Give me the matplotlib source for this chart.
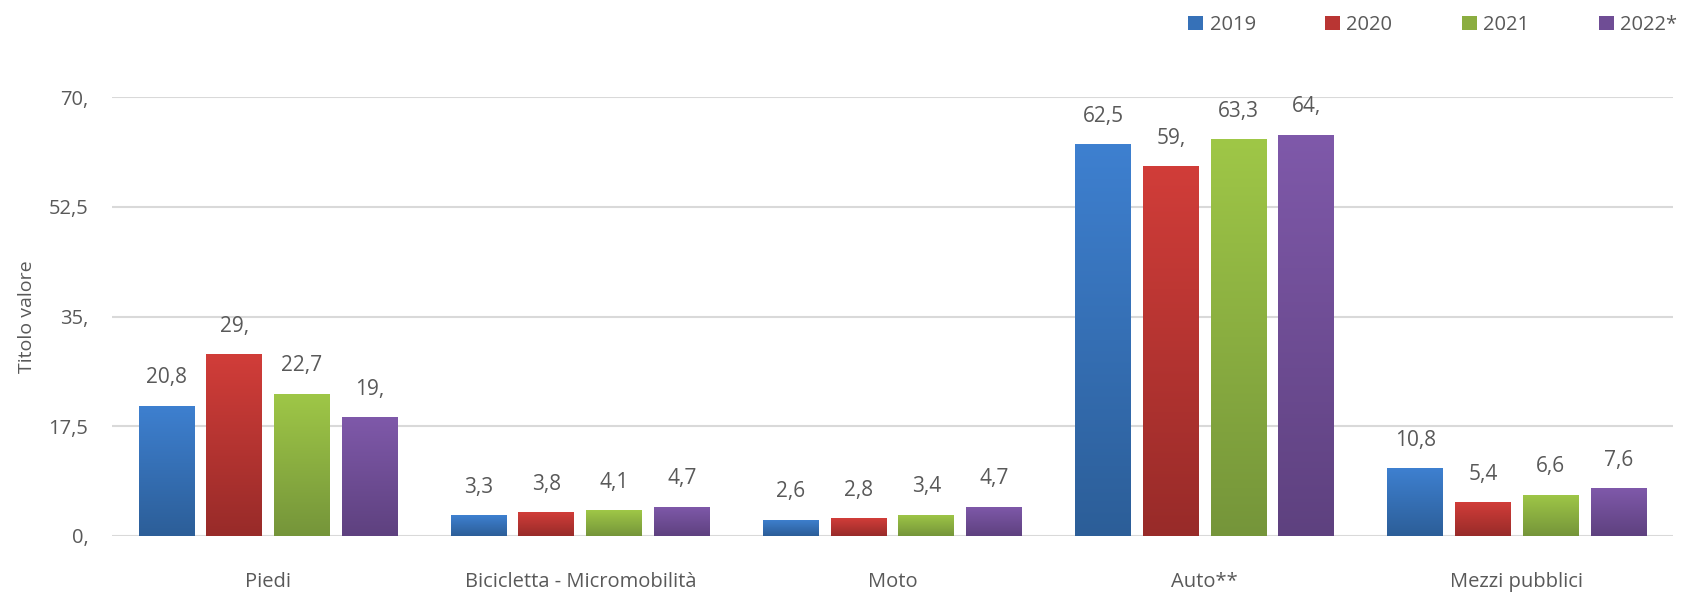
import numpy as np
import matplotlib
matplotlib.use("Agg")
import matplotlib.pyplot as plt
from matplotlib.colors import LinearSegmentedColormap

plt.rcParams['font.family'] = ['Open Sans', 'DejaVu Sans']

categories = ["Piedi", "Bicicletta - Micromobilità", "Moto", "Auto**", "Mezzi pubblici"]
series_names = ["2019", "2020", "2021", "2022*"]
v2019 = [20.8, 3.3, 2.6, 62.5, 10.8]
v2020 = [29.0, 3.8, 2.8, 59.0, 5.4]
v2021 = [22.7, 4.1, 3.4, 63.3, 6.6]
v2022 = [19.0, 4.7, 4.7, 64.0, 7.6]
yticks = [0, 17.5, 35, 52.5, 70]

series = [v2019, v2020, v2021, v2022]
top_colors = ["#3e80d0", "#d13d39", "#9fc747", "#7f59aa"]
bot_colors = ["#2c5e98", "#982b29", "#75953a", "#5e417f"]
mid_colors = ["#3671b8", "#b93533", "#8bad40", "#6f4d95"]

def fmt(v):
    if float(v).is_integer():
        return f"{int(v)},"
    return f"{v:.1f}".replace(".", ",")

text_col = "#595959"
fig = plt.figure(figsize=(16.89, 5.92), dpi=100)
ax = fig.add_axes([112/1689, 1-536/592, (1673-112)/1689, (536-97)/592])

x = np.arange(len(categories))
step = 0.217
width = 0.179
handles = []
grad = np.linspace(1, 0, 256).reshape(-1, 1)
for i, (vals, name) in enumerate(zip(series, series_names)):
    pos = x + (i - 1.5) * step
    bars = ax.bar(pos, vals, width=width, color=mid_colors[i], label=name,
                  zorder=3, linewidth=0)
    handles.append(bars)
    cmap = LinearSegmentedColormap.from_list(f"g{i}", [bot_colors[i], top_colors[i]])
    for b, v in zip(bars, vals):
        bx, by = b.get_x(), b.get_y()
        bw, bh = b.get_width(), b.get_height()
        im = ax.imshow(grad, extent=[bx, bx + bw, by, by + bh], cmap=cmap,
                       aspect='auto', zorder=4, origin='upper', vmin=0, vmax=1)
        im.set_clip_path(b)
        ax.annotate(fmt(v), (b.get_x() + bw / 2, v), xytext=(0, 20),
                    textcoords='offset points', ha='center', va='center',
                    fontsize=15, color=text_col, zorder=5)

ax.set_xlim(-0.5, len(categories) - 0.5)
ax.set_ylim(0, 70)
ax.set_yticks(yticks)
ax.set_yticklabels([fmt(t) for t in yticks])
ax.set_xticks(x)
ax.set_xticklabels(categories)
ax.tick_params(axis='y', length=0, pad=17, labelsize=14.5, labelcolor=text_col)
ax.tick_params(axis='x', length=0, pad=26, labelsize=14.5, labelcolor=text_col)
ax.grid(axis='y', color="#d9d9d9", linewidth=1.5, zorder=0)
for s in ax.spines.values():
    s.set_visible(False)
ax.set_ylabel("Titolo valore", fontsize=14, color=text_col, labelpad=9)

fig.legend(handles=handles, labels=series_names, loc='center right',
           bbox_to_anchor=(1.0035, 1 - 25/592), ncol=4, frameon=False,
           fontsize=14.5, handlelength=0.75, handleheight=0.75, handletextpad=0.3,
           columnspacing=3.45, labelcolor=text_col)

fig.savefig("out.png", dpi=100)
